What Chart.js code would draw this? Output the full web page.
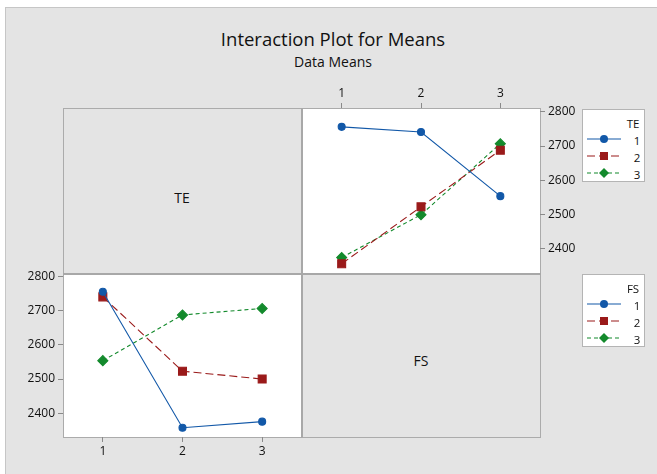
<!DOCTYPE html>
<html><head><meta charset="utf-8">
<script src="https://cdn.jsdelivr.net/npm/chart.js@4/dist/chart.umd.min.js"></script>
<style>
html,body{margin:0;padding:0;background:#fff;}
body{width:657px;height:474px;position:relative;overflow:hidden;font-family:"Open Sans","Noto Sans",sans-serif;color:#111;}
.abs{position:absolute;}
#bg{left:5px;top:7px;width:700px;height:500px;background:#e4e4e4;border:1px solid #c6c6c6;box-sizing:border-box;}
.t{white-space:nowrap;transform:translate(-50%,-50%);}
.white{background:#fff;}
.leg{background:#fff;border:1px solid #b4b4b4;box-sizing:border-box;}
.lt{font-size:11.5px;position:absolute;transform:translate(-50%,-50%);white-space:nowrap;}
</style></head>
<body>
<div id="bg" class="abs"></div>
<div class="abs t" style="left:333px;top:38px;font-size:18.5px;">Interaction Plot for Means</div>
<div class="abs t" style="left:333px;top:61px;font-size:14px;">Data Means</div>

<div class="abs white" style="left:302px;top:108px;width:238px;height:165px;"></div>
<div class="abs white" style="left:63px;top:273px;width:239px;height:164px;"></div>
<div class="abs" style="left:63px;top:108px;width:478px;height:330px;border:1px solid #ababab;box-sizing:border-box;"></div>
<div class="abs" style="left:301px;top:108px;width:2px;height:330px;background:#a8a8a8;"></div>
<div class="abs" style="left:63px;top:273px;width:478px;height:2px;background:#a8a8a8;"></div>
<div class="abs t" style="left:182px;top:197px;font-size:14px;">TE</div>
<div class="abs t" style="left:421px;top:360px;font-size:14px;">FS</div>

<canvas id="c1" class="abs" style="left:302px;top:84px;" width="283" height="199"></canvas>
<canvas id="c2" class="abs" style="left:18px;top:263px;" width="284" height="198"></canvas>

<div id="leg1" class="abs leg" style="left:582px;top:109px;width:63px;height:73px;"></div>
<div id="leg2" class="abs leg" style="left:582px;top:274px;width:63px;height:73px;"></div>

<script>
// Factor levels
const teLevels = ["1", "2", "3"];
const fsLevels = ["1", "2", "3"];
const levelX = [1, 2, 3];
const yTicks = [2400, 2500, 2600, 2700, 2800];
// Data means for each TE level, across FS levels 1,2,3
const meansTE1 = [2756, 2741, 2554];
const meansTE2 = [2357, 2523, 2688];
const meansTE3 = [2375, 2500, 2707];
const yMin = 2330, yMax = 2811;

const colors = ["#1258a8", "#9a1a1a", "#138a2c"];
const dashes = [[], [8, 4], [4, 3]];
const shapes = ["circle", "rect", "rectRot"];
const radii = [3.5, 5.6, 5];

const byTE = [meansTE1, meansTE2, meansTE3];
// Transpose: means for each FS level, across TE levels
const byFS = fsLevels.map((_, j) => byTE.map(row => row[j]));

function ds(values, i) {
  return {
    data: values.map((v, k) => ({x: levelX[k], y: v})),
    borderColor: colors[i], backgroundColor: colors[i],
    pointBackgroundColor: colors[i], pointBorderColor: colors[i],
    borderWidth: 1.1, borderDash: dashes[i],
    pointStyle: shapes[i], pointRadius: radii[i], pointHoverRadius: radii[i],
    tension: 0
  };
}
const tickFont = {family: "'Open Sans', sans-serif", size: 12};
function makeChart(id, datasets, xPos, yPos, xLabels, pad) {
  return new Chart(document.getElementById(id), {
    type: 'line',
    data: {datasets},
    options: {
      responsive: false, animation: false,
      layout: {padding: pad, autoPadding: false},
      plugins: {legend: {display: false}, tooltip: {enabled: false}},
      scales: {
        x: {
          type: 'linear', position: xPos, min: 0.5, max: 3.5,
          afterBuildTicks: s => { s.ticks = levelX.map(v => ({value: v})); },
          afterFit: s => { s.height = 24; s.paddingLeft = 0; s.paddingRight = 0; },
          ticks: {color: '#111', font: tickFont, padding: 2, maxRotation: 0,
                  callback: (v) => xLabels[levelX.indexOf(v)]},
          grid: {drawOnChartArea: false, drawTicks: true, tickLength: 5, color: '#8a8a8a'},
          border: {display: false}
        },
        y: {
          type: 'linear', position: yPos, min: yMin, max: yMax,
          afterBuildTicks: s => { s.ticks = yTicks.map(v => ({value: v})); },
          afterFit: s => { s.width = 45; s.paddingTop = 0; s.paddingBottom = 0; },
          ticks: {color: '#111', font: tickFont, padding: 3, callback: v => String(v)},
          grid: {drawOnChartArea: false, drawTicks: true, tickLength: 5, color: '#8a8a8a'},
          border: {display: false}
        }
      }
    }
  });
}
makeChart('c1', byTE.map((v, i) => ds(v, i)), 'top', 'right', fsLevels, {top: 0, bottom: 10, left: 0, right: 0});
makeChart('c2', byFS.map((v, i) => ds(v, i)), 'bottom', 'left', teLevels, {top: 10, bottom: 0, left: 0, right: 0});

function marker(i, cx, cy) {
  const c = colors[i];
  if (shapes[i] === 'circle') return `<circle cx="${cx}" cy="${cy}" r="4" fill="${c}"/>`;
  if (shapes[i] === 'rect') return `<rect x="${cx-4}" y="${cy-4}" width="8" height="8" fill="${c}"/>`;
  return `<polygon points="${cx},${cy-5} ${cx+5},${cy} ${cx},${cy+5} ${cx-5},${cy}" fill="${c}"/>`;
}
function buildLegend(id, title, labels) {
  const el = document.getElementById(id);
  let html = `<div class="lt" style="left:50px;top:13px;">${title}</div>`;
  let svg = `<svg width="63" height="73" style="position:absolute;left:-1px;top:-1px;">`;
  labels.forEach((lab, i) => {
    const y = 30 + i * 17;
    svg += `<line x1="5" y1="${y}" x2="39" y2="${y}" stroke="${colors[i]}" stroke-width="1.2" stroke-dasharray="${dashes[i].join(',')}"/>`;
    svg += marker(i, 22, y);
    html += `<div class="lt" style="left:54px;top:${y}px;">${lab}</div>`;
  });
  svg += `</svg>`;
  el.innerHTML = svg + html;
}
buildLegend('leg1', 'TE', teLevels);
buildLegend('leg2', 'FS', fsLevels);
</script>
</body></html>
